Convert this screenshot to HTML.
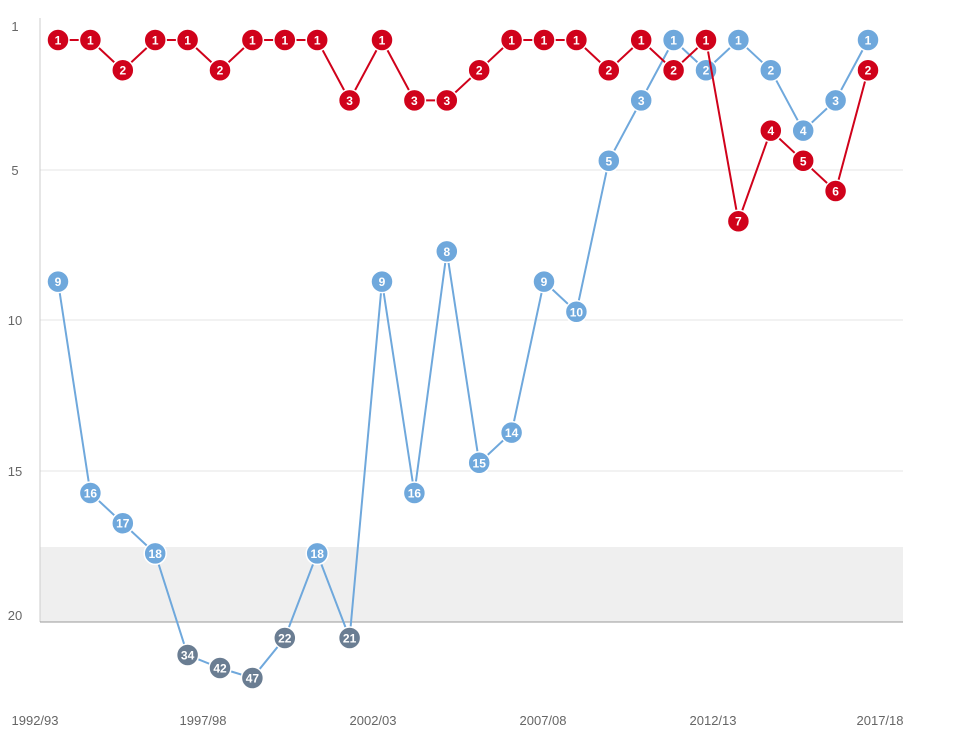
<!DOCTYPE html>
<html><head><meta charset="utf-8"><style>
body{margin:0;background:#fff;}
svg{display:block;font-family:"Liberation Sans",sans-serif;}
.b circle{fill:#6fa8dc;stroke:#fff;stroke-width:1.5}
.d circle{fill:#6a7d92;stroke:#fff;stroke-width:1.5}
.r circle{fill:#d0021b;stroke:#fff;stroke-width:1.5}
.pt text{fill:#fff;font-size:12px;font-weight:bold;text-anchor:middle}
</style></head><body>
<svg width="961" height="745" viewBox="0 0 961 745" xmlns="http://www.w3.org/2000/svg">
<rect x="40" y="547" width="863" height="75" fill="#efefef"/>
<g stroke="#e6e6e6" stroke-width="1">
<line x1="40" y1="170" x2="903" y2="170"/>
<line x1="40" y1="320" x2="903" y2="320"/>
<line x1="40" y1="471" x2="903" y2="471"/>
</g>
<line x1="40" y1="18" x2="40" y2="622" stroke="#ccc"/>
<line x1="40" y1="622" x2="903" y2="622" stroke="#999"/>
<g fill="#666" font-size="13" text-anchor="middle">
<text x="15" y="31">1</text><text x="15" y="175">5</text><text x="15" y="325">10</text><text x="15" y="476">15</text><text x="15" y="620">20</text>
<text x="35" y="725">1992/93</text><text x="203" y="725">1997/98</text><text x="373" y="725">2002/03</text><text x="543" y="725">2007/08</text><text x="713" y="725">2012/13</text><text x="880" y="725">2017/18</text>
</g>
<polyline fill="none" stroke="#6fa8dc" stroke-width="2" points="58,281.6 90.4,493 122.8,523.2 155.2,553.4 187.6,655 220,668 252.4,678 284.8,638 317.2,553.4 349.6,638 382,281.6 414.4,493 446.8,251.4 479.2,462.8 511.6,432.6 544,281.6 576.4,311.8 608.8,160.8 641.2,100.4 673.6,40 706,70.2 738.4,40 770.8,70.2 803.2,130.6 835.6,100.4 868,40"/>
<g class="pt b">
<circle cx="58" cy="281.6" r="11"/><text x="58" y="286">9</text>
<circle cx="90.4" cy="493" r="11"/><text x="90.4" y="497.5">16</text>
<circle cx="122.8" cy="523.2" r="11"/><text x="122.8" y="527.7">17</text>
<circle cx="155.2" cy="553.4" r="11"/><text x="155.2" y="557.9">18</text>
<circle cx="317.2" cy="553.4" r="11"/><text x="317.2" y="557.9">18</text>
<circle cx="382" cy="281.6" r="11"/><text x="382" y="286">9</text>
<circle cx="414.4" cy="493" r="11"/><text x="414.4" y="497.5">16</text>
<circle cx="446.8" cy="251.4" r="11"/><text x="446.8" y="255.9">8</text>
<circle cx="479.2" cy="462.8" r="11"/><text x="479.2" y="467.3">15</text>
<circle cx="511.6" cy="432.6" r="11"/><text x="511.6" y="437.1">14</text>
<circle cx="544" cy="281.6" r="11"/><text x="544" y="286">9</text>
<circle cx="576.4" cy="311.8" r="11"/><text x="576.4" y="316.3">10</text>
<circle cx="608.8" cy="160.8" r="11"/><text x="608.8" y="165.3">5</text>
<circle cx="641.2" cy="100.4" r="11"/><text x="641.2" y="104.9">3</text>
<circle cx="673.6" cy="40" r="11"/><text x="673.6" y="44.5">1</text>
<circle cx="706" cy="70.2" r="11"/><text x="706" y="74.7">2</text>
<circle cx="738.4" cy="40" r="11"/><text x="738.4" y="44.5">1</text>
<circle cx="770.8" cy="70.2" r="11"/><text x="770.8" y="74.7">2</text>
<circle cx="803.2" cy="130.6" r="11"/><text x="803.2" y="135.1">4</text>
<circle cx="835.6" cy="100.4" r="11"/><text x="835.6" y="104.9">3</text>
<circle cx="868" cy="40" r="11"/><text x="868" y="44.5">1</text>
</g>
<g class="pt d">
<circle cx="187.6" cy="655" r="11"/><text x="187.6" y="659.5">34</text>
<circle cx="220" cy="668" r="11"/><text x="220" y="672.5">42</text>
<circle cx="252.4" cy="678" r="11"/><text x="252.4" y="682.5">47</text>
<circle cx="284.8" cy="638" r="11"/><text x="284.8" y="642.5">22</text>
<circle cx="349.6" cy="638" r="11"/><text x="349.6" y="642.5">21</text>
</g>
<polyline fill="none" stroke="#d0021b" stroke-width="2" points="58,40 90.4,40 122.8,70.2 155.2,40 187.6,40 220,70.2 252.4,40 284.8,40 317.2,40 349.6,100.4 382,40 414.4,100.4 446.8,100.4 479.2,70.2 511.6,40 544,40 576.4,40 608.8,70.2 641.2,40 673.6,70.2 706,40 738.4,221.2 770.8,130.6 803.2,160.8 835.6,191 868,70.2"/>
<g class="pt r">
<circle cx="58" cy="40" r="11"/><text x="58" y="44.5">1</text>
<circle cx="90.4" cy="40" r="11"/><text x="90.4" y="44.5">1</text>
<circle cx="122.8" cy="70.2" r="11"/><text x="122.8" y="74.7">2</text>
<circle cx="155.2" cy="40" r="11"/><text x="155.2" y="44.5">1</text>
<circle cx="187.6" cy="40" r="11"/><text x="187.6" y="44.5">1</text>
<circle cx="220" cy="70.2" r="11"/><text x="220" y="74.7">2</text>
<circle cx="252.4" cy="40" r="11"/><text x="252.4" y="44.5">1</text>
<circle cx="284.8" cy="40" r="11"/><text x="284.8" y="44.5">1</text>
<circle cx="317.2" cy="40" r="11"/><text x="317.2" y="44.5">1</text>
<circle cx="349.6" cy="100.4" r="11"/><text x="349.6" y="104.9">3</text>
<circle cx="382" cy="40" r="11"/><text x="382" y="44.5">1</text>
<circle cx="414.4" cy="100.4" r="11"/><text x="414.4" y="104.9">3</text>
<circle cx="446.8" cy="100.4" r="11"/><text x="446.8" y="104.9">3</text>
<circle cx="479.2" cy="70.2" r="11"/><text x="479.2" y="74.7">2</text>
<circle cx="511.6" cy="40" r="11"/><text x="511.6" y="44.5">1</text>
<circle cx="544" cy="40" r="11"/><text x="544" y="44.5">1</text>
<circle cx="576.4" cy="40" r="11"/><text x="576.4" y="44.5">1</text>
<circle cx="608.8" cy="70.2" r="11"/><text x="608.8" y="74.7">2</text>
<circle cx="641.2" cy="40" r="11"/><text x="641.2" y="44.5">1</text>
<circle cx="673.6" cy="70.2" r="11"/><text x="673.6" y="74.7">2</text>
<circle cx="706" cy="40" r="11"/><text x="706" y="44.5">1</text>
<circle cx="738.4" cy="221.2" r="11"/><text x="738.4" y="225.7">7</text>
<circle cx="770.8" cy="130.6" r="11"/><text x="770.8" y="135.1">4</text>
<circle cx="803.2" cy="160.8" r="11"/><text x="803.2" y="165.3">5</text>
<circle cx="835.6" cy="191" r="11"/><text x="835.6" y="195.5">6</text>
<circle cx="868" cy="70.2" r="11"/><text x="868" y="74.7">2</text>
</g>
</svg>
</body></html>
